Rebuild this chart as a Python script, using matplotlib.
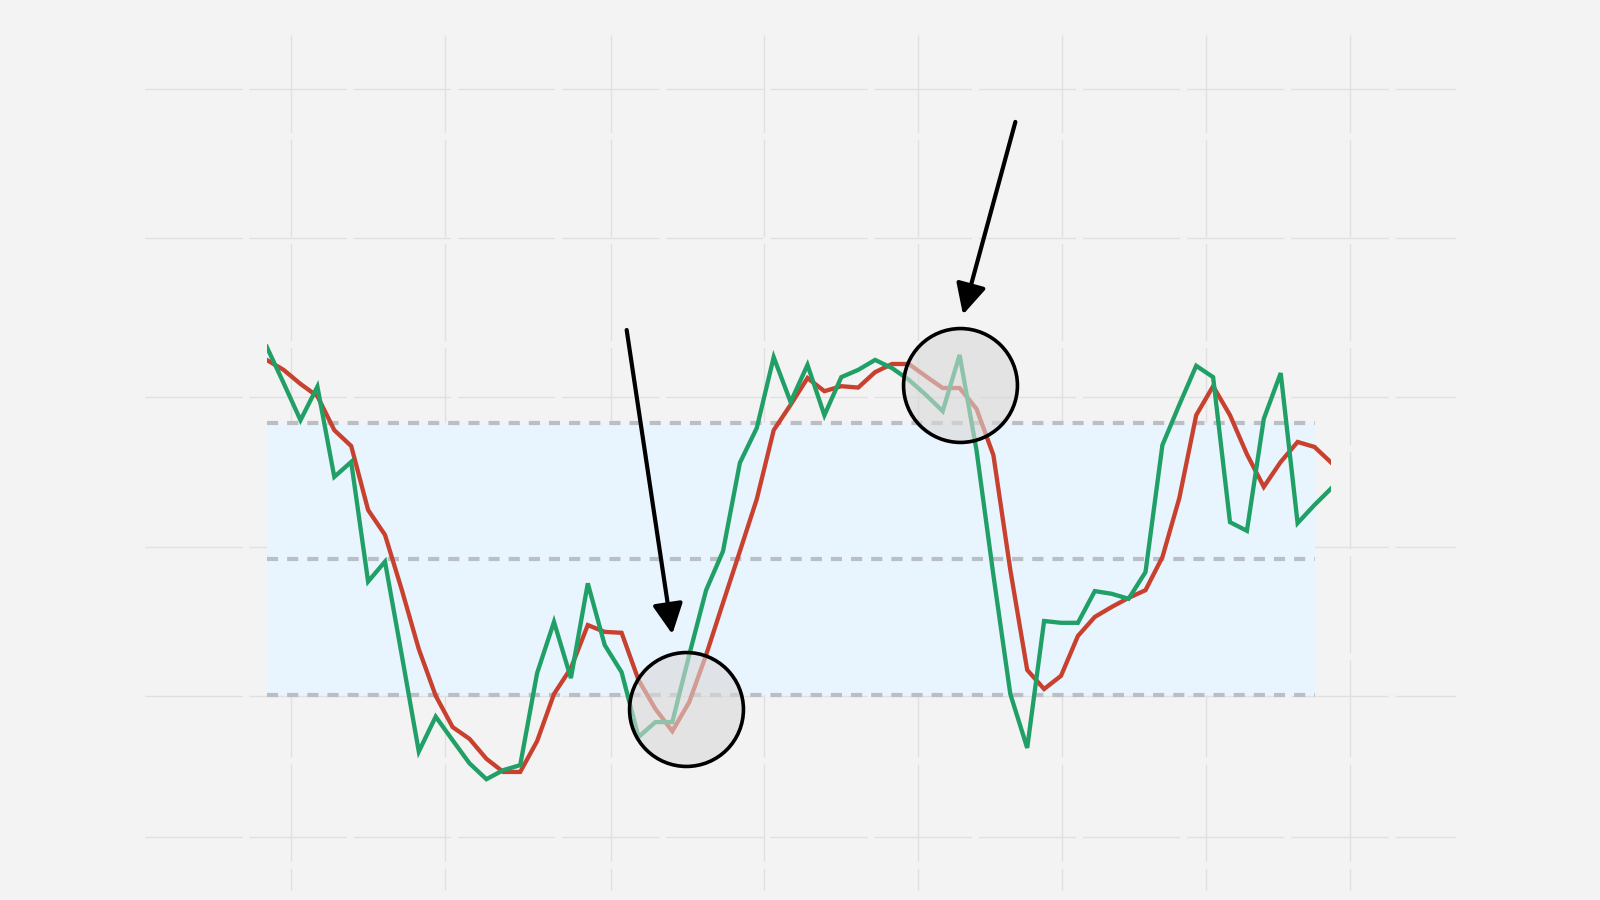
import numpy as np
import matplotlib
matplotlib.use('Agg')
import matplotlib.pyplot as plt

# %K (fast, green) and %D (slow, red) readings, one per period
k_line = [96.9, 88.9, 80.7, 88.1, 68.2, 71.5, 45.1, 49.5, 28.7, 7.6,
          15.3, 10.1, 5.0, 1.5, 3.5, 4.6, 24.9, 36.2, 23.8, 44.7,
          31.1, 25.1, 10.8, 14.1, 14.1, 28.9, 43.2, 51.8, 71.3, 79.0,
          94.6, 84.7, 92.9, 81.8, 90.2, 91.8, 94.0, 92.2, 89.6, 86.3,
          82.7, 95.1, 74.1, 46.5, 20.3, 8.4, 36.4, 36.0, 36.0, 43.0,
          42.4, 41.3, 47.2, 75.2, 84.1, 92.7, 90.2, 58.2, 56.3, 81.0,
          91.1, 58.0, 62.0, 65.7]
d_line = [94.0, 91.8, 88.7, 86.0, 78.5, 75.0, 60.9, 55.4, 43.2, 30.2,
          19.9, 13.0, 10.4, 6.0, 3.1, 3.1, 9.9, 20.3, 26.0, 35.5,
          34.0, 33.8, 23.4, 17.0, 12.1, 18.5, 28.9, 40.4, 51.8, 63.3,
          78.5, 84.1, 90.0, 87.1, 88.2, 87.9, 91.3, 93.1, 93.1, 90.4,
          87.8, 87.8, 83.2, 73.0, 47.7, 25.6, 21.4, 24.3, 33.1, 37.3,
          39.5, 41.5, 43.2, 50.5, 63.5, 81.8, 88.2, 81.8, 73.2, 66.0,
          71.5, 75.9, 74.8, 71.3]
levels = [20, 50, 80]

# highlighted spots (period, value) and arrow tail/tip
circle_pts = [(24.8, 17.0), (41.0, 88.4)]
arrow_tails = [(21.3, 100.6), (44.3, 146.5)]
arrow_tips = [(24.0, 33.5), (41.2, 104.0)]

# decorative paper grid (pixel positions in the 1600x900 canvas)
grid_x_px = [291, 445, 611, 764, 918, 1062, 1206, 1350]
grid_y_px = [89, 238, 397, 547, 696, 837]

x = np.arange(len(k_line))
plt.rcParams['lines.scale_dashes'] = False

fig = plt.figure(figsize=(16, 9), dpi=100)
fig.patch.set_facecolor('#f3f3f3')

# background grid
bg = fig.add_axes([0, 0, 1, 1])
bg.set_xlim(0, 1600)
bg.set_ylim(900, 0)
bg.axis('off')
for gx in grid_x_px:
    bg.plot([gx, gx], [35, 890], color='#e0e0e0', lw=1.0, dashes=(70, 5))
for gy in grid_y_px:
    bg.plot([145, 1456], [gy, gy], color='#e0e0e0', lw=1.0, dashes=(70, 5))

# main axes
left = 266.7 / 1600
width = (1331.4 - 266.7) / 1600
ax = fig.add_axes([left, 0, width, 1])
ax.set_xlim(0, len(k_line) - 1)
ax.set_ylim(-25.15, 173.4)
ax.axis('off')
ax.patch.set_alpha(0)

ax.fill_between([x[0], x[-2]], levels[0], levels[-1], color='#e8f4fe', lw=0, zorder=1)
for lv in levels:
    ax.plot([x[0], x[-2]], [lv, lv], color='#babec5', lw=3.0, dashes=(8, 6.5), zorder=2)

ax.plot(x, d_line, color='#c8412f', lw=3.1, solid_joinstyle='miter', zorder=3)
ax.plot(x, k_line, color='#20a066', lw=3.1, solid_joinstyle='miter', zorder=4)

for cx, cy in circle_pts:
    ax.scatter([cx], [cy], s=82**2, facecolor=(0.85, 0.85, 0.85, 0.6),
               edgecolor='black', linewidth=2.6, zorder=5)

for (tx, ty), (hx, hy) in zip(arrow_tails, arrow_tips):
    ax.annotate('', xy=(hx, hy), xytext=(tx, ty), annotation_clip=False,
                arrowprops=dict(arrowstyle='-|>', color='black', lw=3.0,
                                mutation_scale=46, shrinkA=0, shrinkB=0),
                zorder=6)

plt.savefig('out.png', dpi=100, facecolor=fig.get_facecolor())
